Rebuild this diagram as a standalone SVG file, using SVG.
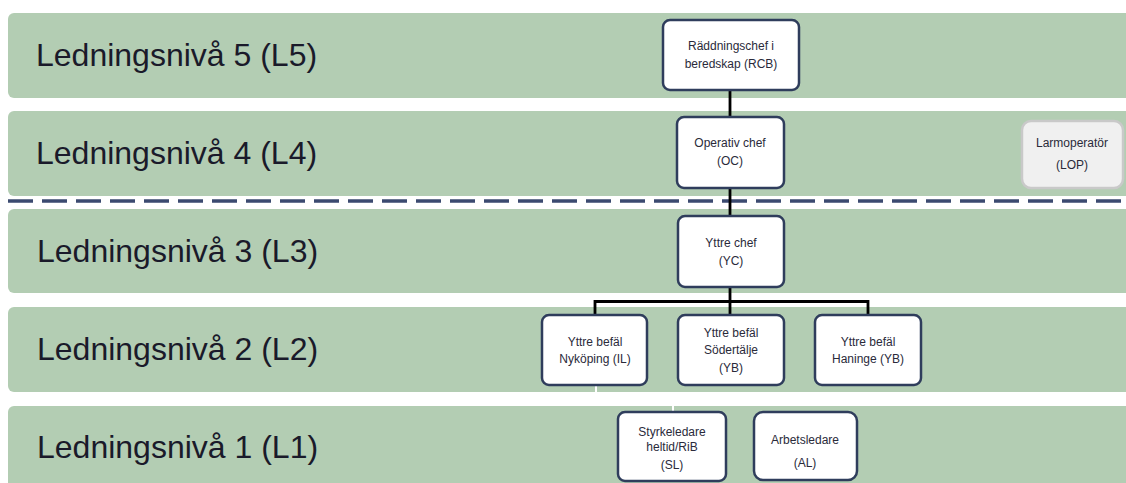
<svg xmlns="http://www.w3.org/2000/svg" width="1126" height="483" viewBox="0 0 1126 483">
<style>
.band{fill:#b3cdb3;}
.lvl{font-family:"Liberation Sans",Arial,sans-serif;font-size:32px;fill:#1a1a2a;}
.box{fill:#ffffff;stroke:#2f3d5c;stroke-width:2.5;}
.gbox{fill:#f0f0f0;stroke:#c9c9c9;stroke-width:2.5;}
.t{font-family:"Liberation Sans",Arial,sans-serif;font-size:12px;fill:#2a2a3a;text-anchor:middle;}
.con{fill:none;stroke:#000000;stroke-width:2.8;}
.wcon{fill:none;stroke:#ffffff;stroke-width:2;}
</style>
<rect width="1126" height="483" fill="#ffffff"/>
<g id="bands">
<g id="L5"><rect class="band" x="8" y="13" width="1130" height="85" rx="6"/><text class="lvl" x="36" y="66">Ledningsnivå 5 (L5)</text></g>
<g id="L4"><rect class="band" x="8" y="111" width="1130" height="85" rx="6"/><text class="lvl" x="36" y="164">Ledningsnivå 4 (L4)</text></g>
<g id="L3"><rect class="band" x="8" y="209" width="1130" height="84" rx="6"/><text class="lvl" x="37" y="262">Ledningsnivå 3 (L3)</text></g>
<g id="L2"><rect class="band" x="8" y="307" width="1130" height="85" rx="6"/><text class="lvl" x="37" y="360">Ledningsnivå 2 (L2)</text></g>
<g id="L1"><rect class="band" x="8" y="406" width="1130" height="90" rx="6"/><text class="lvl" x="37" y="458">Ledningsnivå 1 (L1)</text></g>
</g>
<line id="divider" x1="8" y1="201" x2="1126" y2="201" stroke="#3b4a70" stroke-width="3.5" stroke-dasharray="25 9"/>
<g id="connectors">
<path class="con" d="M730 90V117"/>
<path class="con" d="M730 188V216"/>
<path class="con" d="M730 287V315"/>
<path class="con" d="M595 315V301.5H868V315"/>
<path class="wcon" d="M596 386V399H673V412"/>
</g>
<g id="RCB"><rect class="box" x="663" y="20" width="136" height="70" rx="7"/><text class="t" x="731" y="50">Räddningschef i</text><text class="t" x="731" y="68">beredskap (RCB)</text></g>
<g id="OC"><rect class="box" x="677" y="117" width="107" height="71" rx="7"/><text class="t" x="730" y="147">Operativ chef</text><text class="t" x="730" y="165">(OC)</text></g>
<g id="LOP"><rect class="gbox" x="1022" y="121" width="101" height="67" rx="9"/><text class="t" x="1072" y="147">Larmoperatör</text><text class="t" x="1072" y="169">(LOP)</text></g>
<g id="YC"><rect class="box" x="678" y="216" width="106" height="71" rx="7"/><text class="t" x="731" y="247">Yttre chef</text><text class="t" x="731" y="265">(YC)</text></g>
<g id="IL"><rect class="box" x="542" y="315" width="105" height="70" rx="7"/><text class="t" x="595" y="346">Yttre befäl</text><text class="t" x="595" y="363">Nyköping (IL)</text></g>
<g id="YBS"><rect class="box" x="678" y="315" width="106" height="70" rx="7"/><text class="t" x="731" y="337">Yttre befäl</text><text class="t" x="731" y="354">Södertälje</text><text class="t" x="731" y="372">(YB)</text></g>
<g id="YBH"><rect class="box" x="815" y="315" width="106" height="70" rx="7"/><text class="t" x="868" y="346">Yttre befäl</text><text class="t" x="868" y="363">Haninge (YB)</text></g>
<g id="SL"><rect class="box" x="618" y="412" width="108" height="69" rx="7"/><text class="t" x="672" y="436">Styrkeledare</text><text class="t" x="672" y="451">heltid/RiB</text><text class="t" x="672" y="469">(SL)</text></g>
<g id="AL"><rect class="box" x="754" y="412" width="103" height="68" rx="9"/><text class="t" x="805" y="444">Arbetsledare</text><text class="t" x="805" y="467">(AL)</text></g>
</svg>
